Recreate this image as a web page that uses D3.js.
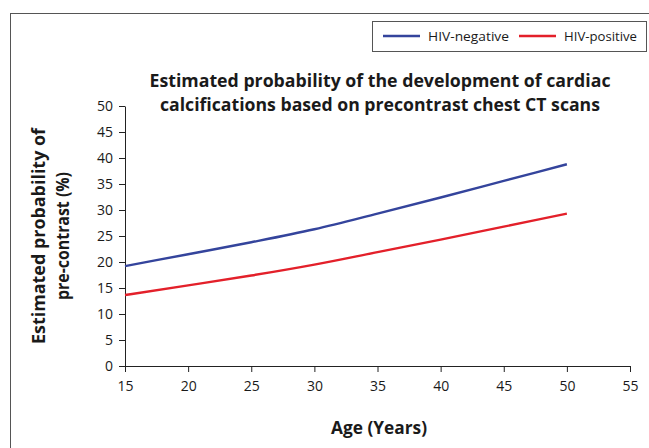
<!DOCTYPE html>
<html><head><meta charset="utf-8">
<script src="https://cdn.jsdelivr.net/npm/d3@7"></script>
<style>body{margin:0;background:#fff}svg{display:block}text{font-family:"Open Sans",sans-serif;fill:#1a1a1a}</style>
</head><body>
<svg id="c" width="649" height="448"></svg>
<script>
const ages = [15, 20, 25, 30, 35, 40, 45, 50];
const hivNegative = [19.2, 21.5, 23.8, 26.3, 29.3, 32.4, 35.6, 38.8];
const hivPositive = [13.65, 15.5, 17.4, 19.5, 21.9, 24.3, 26.8, 29.3];
const xTicks = [15, 20, 25, 30, 35, 40, 45, 50, 55];
const yTicks = [0, 5, 10, 15, 20, 25, 30, 35, 40, 45, 50];
const seriesNames = ["HIV-negative", "HIV-positive"];
const seriesColors = ["#34449c", "#e3202a"];
const titleLines = ["Estimated probability of the development of cardiac", "calcifications based on precontrast chest CT scans"];
const yTitleLines = ["Estimated probability of", "pre-contrast (%)"];
const xTitle = "Age (Years)";

const svg = d3.select("#c");
svg.append("rect").attr("x", 10.5).attr("y", 13.5).attr("width", 700).attr("height", 500)
  .attr("fill", "none").attr("stroke", "#555").attr("stroke-width", 1);

const x = d3.scaleLinear().domain([15, 55]).range([125, 630]);
const y = d3.scaleLinear().domain([0, 50]).range([366, 106]);

const gx = svg.append("g").attr("transform", "translate(0,366)")
  .call(d3.axisBottom(x).tickValues(xTicks).tickSize(6).tickPadding(6).tickSizeOuter(0));
const gy = svg.append("g").attr("transform", "translate(125,0)")
  .call(d3.axisLeft(y).tickValues(yTicks).tickSize(6).tickPadding(6).tickSizeOuter(0));
[gx, gy].forEach(g => {
  g.selectAll("path,line").attr("stroke", "#222");
  g.selectAll("text").attr("font-size", 14).attr("font-family", "'Open Sans', sans-serif").attr("fill", "#1a1a1a");
});
gx.selectAll("text").attr("dy", "0.95em");

const line = d3.line().x(d => x(d[0])).y(d => y(d[1])).curve(d3.curveMonotoneX);
[hivNegative, hivPositive].forEach((vals, i) => {
  svg.append("path").datum(ages.map((a, j) => [a, vals[j]]))
    .attr("d", line).attr("fill", "none").attr("stroke", seriesColors[i]).attr("stroke-width", 2.4);
});

const t = svg.append("text").attr("text-anchor", "middle")
  .attr("font-weight", "bold").attr("font-size", 17);
t.selectAll("tspan").data(titleLines).join("tspan")
  .attr("x", 380).attr("y", (d, i) => 87 + i * 24)
  .attr("textLength", (d, i) => i ? 440 : 461).attr("lengthAdjust", "spacingAndGlyphs")
  .text(d => d);

const yt = svg.append("g").attr("transform", "translate(45,236) rotate(-90)");
yt.selectAll("text").data(yTitleLines).join("text")
  .attr("text-anchor", "middle").attr("font-weight", "bold").attr("font-size", 17.5)
  .attr("x", 0).attr("y", (d, i) => i * 24)
  .attr("textLength", (d, i) => i ? 128 : 216).attr("lengthAdjust", "spacingAndGlyphs")
  .text(d => d);

svg.append("text").attr("x", 379).attr("y", 434).attr("text-anchor", "middle")
  .attr("font-weight", "bold").attr("font-size", 17)
  .attr("textLength", 96).attr("lengthAdjust", "spacingAndGlyphs").text(xTitle);

svg.append("rect").attr("x", 372.5).attr("y", 21.5).attr("width", 274).attr("height", 30)
  .attr("fill", "#fff").attr("stroke", "#555");
const legX = [383, 519];
const legW = [81, 73];
seriesNames.forEach((n, i) => {
  svg.append("line").attr("x1", legX[i]).attr("x2", legX[i] + 37).attr("y1", 36).attr("y2", 36)
    .attr("stroke", seriesColors[i]).attr("stroke-width", 2.4);
  svg.append("text").attr("x", legX[i] + 45).attr("y", 40.5).attr("font-size", 13)
    .attr("textLength", legW[i]).attr("lengthAdjust", "spacingAndGlyphs").text(n);
});
</script>
</body></html>
